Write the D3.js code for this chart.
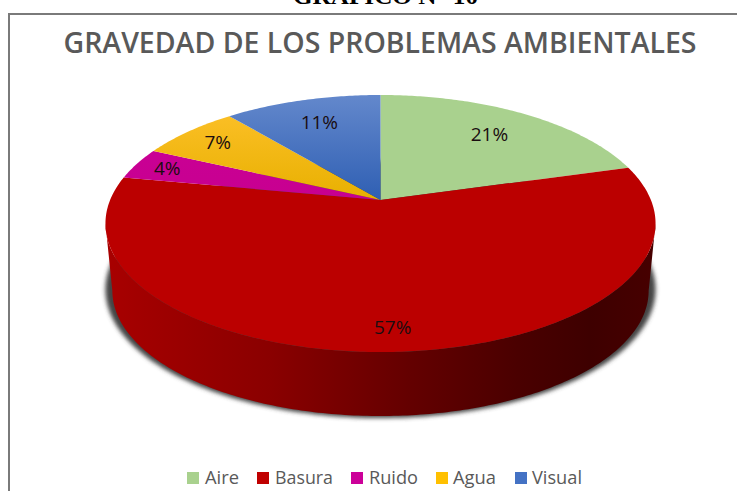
<!DOCTYPE html>
<html><head><meta charset="utf-8">
<script src="https://cdn.jsdelivr.net/npm/d3@7"></script>
<style>html,body{margin:0;padding:0;background:#fff}svg{display:block}</style>
</head><body><svg id="c" width="737" height="491"></svg>
<script>
const categories=["Aire","Basura","Ruido","Agua","Visual"];
const values=[20.6,57.4,4,7,11];
const labels=["21%","57%","4%","7%","11%"];
const colorsTop=["#a9d18e","#bf0000","#cc0099","#ffc22e","#6388cc"];
const colorsBottom=["#a9d18e","#bb0000","#c70090","#e8b000","#2f5fb3"];
const legendColors=["#a9d18e","#c00000","#cc0099","#ffc000","#4472c4"];
const title="GRAVEDAD DE LOS PROBLEMAS AMBIENTALES";
const heading="GRÁFICO N° 10";

const svg=d3.select("#c");
const defs=svg.append("defs");
const cx=380.5,cy=200,kx=270.4,ky=124.2,p=0.183;
const proj=(a,r=1,dy=0,s=1)=>{const u=Math.sin(a)*r,v=Math.cos(a)*r,d=1+p*v;return [cx+s*kx*u/d,cy+dy-s*ky*v/d];};
const line=d3.line();
const arcPts=(a0,a1)=>d3.range(0,1.0001,1/Math.max(8,Math.ceil((a1-a0)*80))).map(t=>proj(a0+(a1-a0)*t));
const arcs=d3.pie().sort(null)(values);

// frame and headings
svg.append("path").attr("d","M9,491V14H737").attr("fill","none").attr("stroke","#7a7a7a").attr("stroke-width",2);
svg.append("text").attr("x",385.5).attr("y",4).attr("text-anchor","middle").attr("font-family","Liberation Serif").attr("font-weight","bold").attr("font-size",24).attr("textLength",185).attr("lengthAdjust","spacingAndGlyphs").text(heading);
svg.append("text").attr("x",380).attr("y",53).attr("text-anchor","middle").attr("font-family","Open Sans").attr("font-weight",600).attr("font-size",28).attr("fill","#595959").attr("textLength",633).attr("lengthAdjust","spacingAndGlyphs").text(title);

// shadow
const blur=defs.append("filter").attr("id","blur").attr("x","-10%").attr("y","-10%").attr("width","120%").attr("height","120%");
blur.append("feGaussianBlur").attr("stdDeviation",2);
svg.append("path").attr("d",d3.line().curve(d3.curveLinearClosed)(d3.range(0,Math.PI*2,0.02).map(a=>proj(a,1,66,1)))).attr("fill","#444").attr("filter","url(#blur)");

// side wall, silhouette joined at the widest points of the top and lower rims
const dyB=67.8,sB=0.975;
const sg=defs.append("linearGradient").attr("id","side").attr("gradientUnits","userSpaceOnUse").attr("x1",105).attr("x2",656).attr("y1",0).attr("y2",0);
[[0,"#a80000"],[0.3,"#8a0000"],[0.55,"#640000"],[0.75,"#4a0000"],[0.88,"#3e0000"],[1,"#470000"]].forEach(([o,c])=>sg.append("stop").attr("offset",o).attr("stop-color",c));
const aW=Math.PI/2+0.184;
const rim=d3.range(0,1.0001,0.005).map(t=>aW+t*(Math.PI-0.368));
const lower=rim.map(a=>proj(a,1,dyB,sB));
const upper=rim.map(a=>proj(a,1,0,1)).reverse();
svg.append("path").attr("d",line([...lower,...upper])+"Z").attr("fill","url(#side)");

// top face
arcs.forEach((d,i)=>{
  const g=defs.append("linearGradient").attr("id","g"+i).attr("gradientUnits","userSpaceOnUse").attr("x1",0).attr("x2",0).attr("y1",95).attr("y2",200);
  g.append("stop").attr("offset",0).attr("stop-color",colorsTop[i]);
  g.append("stop").attr("offset",1).attr("stop-color",colorsBottom[i]);
  const pts=[[cx,cy],...arcPts(d.startAngle,d.endAngle)];
  svg.append("path").attr("d",line(pts)+"Z").attr("fill",i==1?colorsBottom[i]:"url(#g"+i+")");
});

// data labels, placed along each slice's mid angle
const labelRadius=[0.74,0.862,0.87,0.833,0.754];
arcs.forEach((d,i)=>{
  const [x,y]=proj((d.startAngle+d.endAngle)/2,labelRadius[i]);
  svg.append("text").attr("x",x).attr("y",y+7).attr("text-anchor","middle").attr("font-family","Open Sans").attr("font-size",19).attr("fill","#1a0d10").text(labels[i]);
});

// legend
const legX=[187,257,351,436,515];
const legT=[205,275,369,453,532];
const legW=[34,58,49,43,50];
categories.forEach((c,i)=>{
  svg.append("rect").attr("x",legX[i]).attr("y",472).attr("width",12).attr("height",12).attr("fill",legendColors[i]);
  svg.append("text").attr("x",legT[i]).attr("y",484).attr("font-family","Open Sans").attr("font-size",18).attr("fill","#595959").attr("textLength",legW[i]).attr("lengthAdjust","spacingAndGlyphs").text(c);
});
</script></body></html>
